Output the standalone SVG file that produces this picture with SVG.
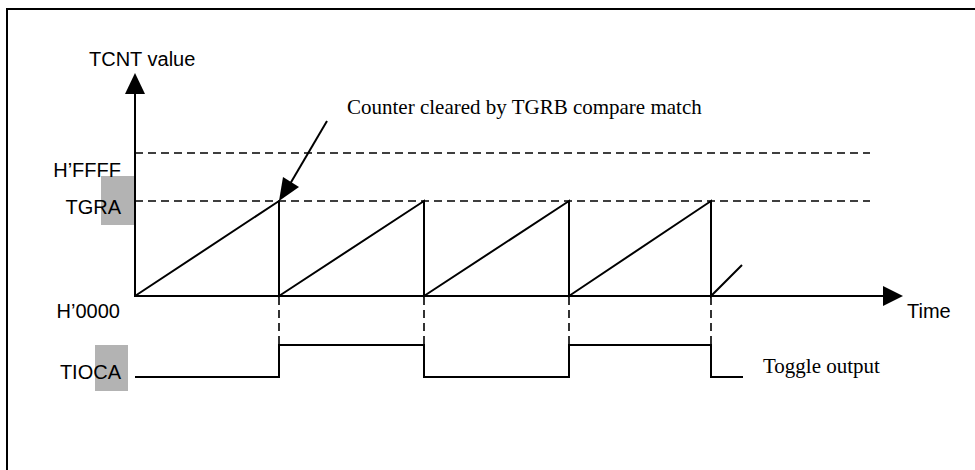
<svg xmlns="http://www.w3.org/2000/svg" width="975" height="470" viewBox="0 0 975 470">
<defs>
<style>
.s{font-family:"Liberation Sans",Arial,sans-serif;font-size:20px;fill:#000}
.e{text-anchor:end}
.t{font-family:"Liberation Serif","Times New Roman",serif;font-size:21px;fill:#000}
.ln{stroke:#000;stroke-width:2;fill:none}
.dash{stroke:#000;stroke-width:1.6;fill:none;stroke-dasharray:8,5}
.grey{fill:#b3b3b3}
</style>
</defs>
<rect width="975" height="470" fill="#fff"/>
<path d="M7,470 V9 H975" stroke="#000" stroke-width="2" fill="none"/>
<g id="labels">
<rect class="grey" x="101" y="176" width="33" height="49"/>
<rect class="grey" x="95" y="345" width="33" height="46"/>
<text class="s" x="89" y="66">TCNT value</text>
<text class="s e" x="121" y="177">H’FFFF</text>
<text class="s e" x="121" y="214">TGRA</text>
<text class="s e" x="120" y="318">H’0000</text>
<text class="s e" x="121" y="379">TIOCA</text>
<text class="s" x="907" y="318">Time</text>
<text class="t" x="763" y="373">Toggle output</text>
<text class="t" x="347" y="114">Counter cleared by TGRB compare match</text>
</g>
<g id="axes">
<line class="ln" x1="135" y1="297" x2="135" y2="93"/>
<path d="M125,94 L135,73 L145,94 z" fill="#000"/>
<line class="ln" x1="135" y1="296" x2="884" y2="296"/>
<path d="M883,286 L903,296 L883,306 z" fill="#000"/>
</g>
<g id="levels">
<line class="dash" x1="135" y1="153" x2="870" y2="153"/>
<line class="dash" x1="135" y1="201" x2="870" y2="201"/>
</g>
<g id="connectors">
<path class="ln" d="M135,296 L279,201 V296 L424,201 V296 L569,201 V296 L711,201 V296 L742,265"/>
<g class="dash" stroke-dasharray="7,5">
<line x1="279" y1="297" x2="279" y2="345"/>
<line x1="424" y1="297" x2="424" y2="345"/>
<line x1="569" y1="297" x2="569" y2="345"/>
<line x1="711" y1="297" x2="711" y2="345"/>
</g>
<path class="ln" d="M135,377 H279 V345 H424 V377 H569 V345 H711 V377 H743"/>
<line class="ln" x1="327" y1="121" x2="290" y2="184"/>
<path d="M279,201 L283,177 L299,187 z" fill="#000"/>
</g>
</svg>
